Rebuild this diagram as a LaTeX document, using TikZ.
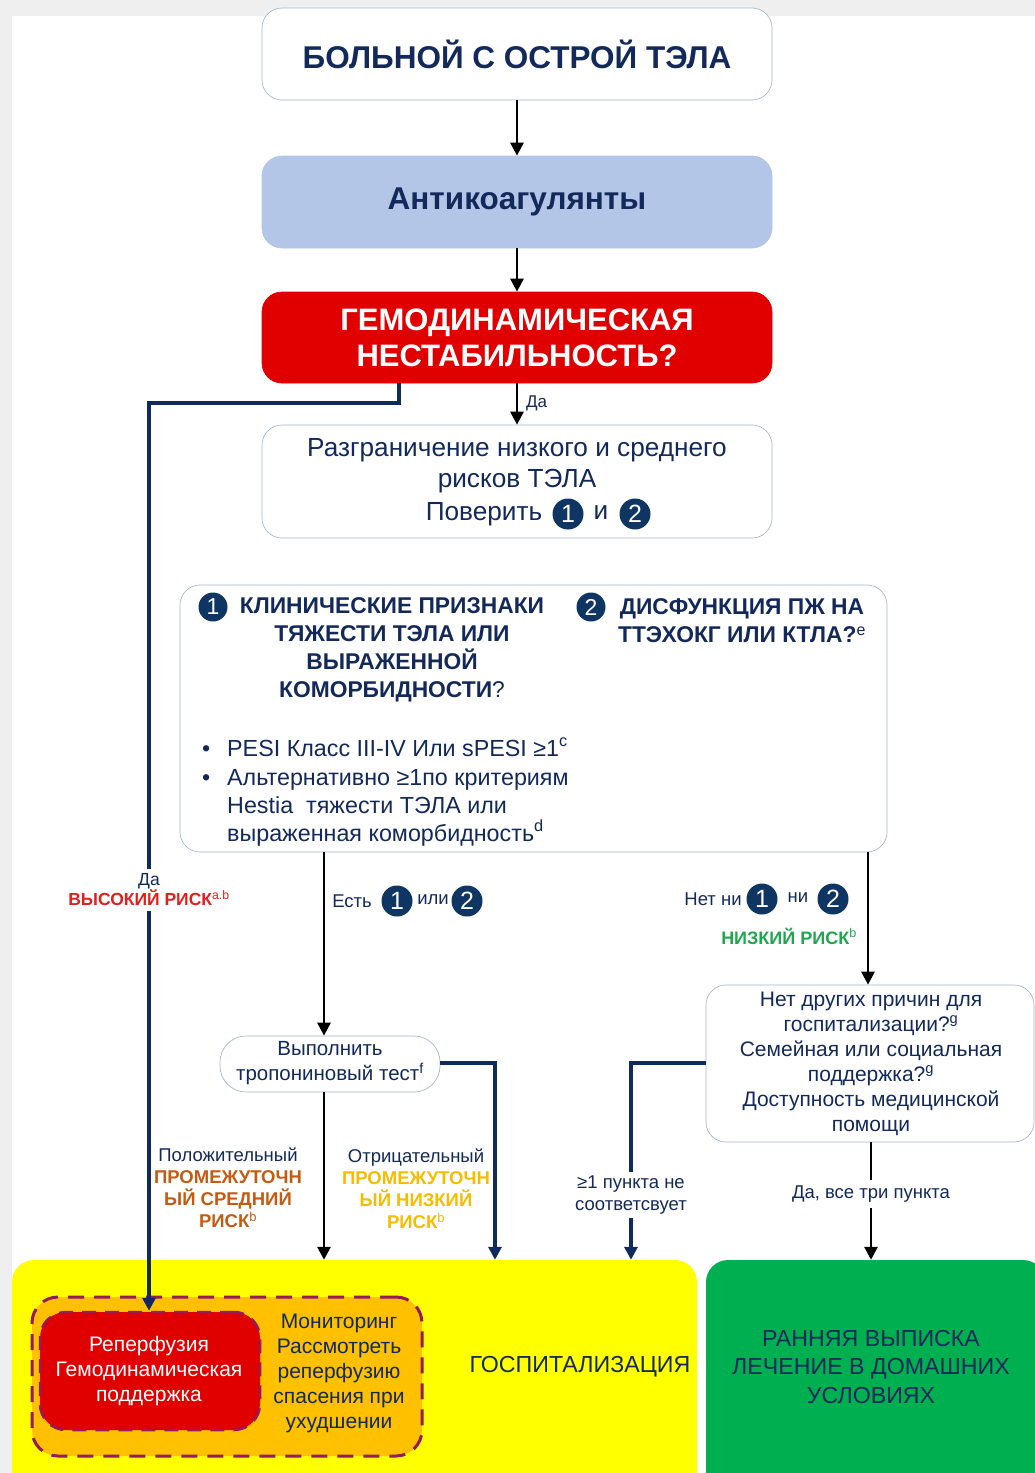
\documentclass[tikz,border=0pt]{standalone}
\usepackage{fontspec}
\setmainfont{Liberation Sans}
\usetikzlibrary{arrows.meta}
\definecolor{navyt}{HTML}{12295A}
\definecolor{navyl}{HTML}{0E2A5E}
\definecolor{circc}{HTML}{0F3563}
\definecolor{redc}{HTML}{E00000}
\definecolor{lblue}{HTML}{B4C6E7}
\definecolor{yellc}{HTML}{FFFF00}
\definecolor{orac}{HTML}{FFC000}
\definecolor{greenc}{HTML}{00B050}
\definecolor{dashc}{HTML}{951B5C}
\definecolor{brownc}{HTML}{C55A11}
\definecolor{goldc}{HTML}{F5BC00}
\definecolor{greent}{HTML}{1FA64F}
\definecolor{redt}{HTML}{E0201C}
\definecolor{bordc}{HTML}{A9B8CC}
\definecolor{bgc}{HTML}{EFEFEF}
\newcommand{\myfs}[2]{\fontsize{#1}{#2}\selectfont}
\tikzset{
  box/.style={draw=bordc, line width=0.7pt, rounded corners=20pt, fill=white, inner sep=0pt},
  arr/.style={line width=2.8pt, draw=black, -{Triangle[length=13pt,width=13pt]}},
  narr/.style={line width=3.5pt, draw=navyl, -{Triangle[length=13pt,width=13pt]}},
  numc/.style={circle, fill=circc, text=white, inner sep=0pt, minimum size=31pt, font=\myfs{25}{25}},
  lbl/.style={text=navyt, inner sep=1pt, align=center},
}
\begin{document}
\begin{tikzpicture}[x=1pt,y=-1pt]
\clip (0,0) rectangle (1035,1473);
\fill[bgc] (0,0) rectangle (1035,1473);
\fill[white] (12,16) rectangle (1035,1473);

% top boxes
\node[box, minimum width=510pt, minimum height=92pt, text=navyt, font=\bfseries\myfs{31.5}{36}] (b1) at (517,54) {БОЛЬНОЙ С ОСТРОЙ ТЭЛА};
\node[box, fill=lblue, draw=lblue, minimum width=510pt, minimum height=92pt, text=navyt, font=\bfseries\myfs{31.5}{36}] (b2) at (517,202) {Антикоагулянты};
\node[box, fill=redc, draw=redc, minimum width=510pt, minimum height=91pt, text=white, align=center, font=\bfseries\myfs{31}{36}] (b3) at (517,337.5) {ГЕМОДИНАМИЧЕСКАЯ\\НЕСТАБИЛЬНОСТЬ?};

% box 4
\node[box, minimum width=510pt, minimum height=113pt] (b4) at (517,481.5) {};
\node[lbl, font=\myfs{26.2}{31}] (t4) at (517,466) {Разграничение низкого и среднего\\рисков ТЭЛА};
\node[lbl, font=\myfs{26.2}{31}] (t4b) at (484,514) {Поверить};
\node[numc] (c41) at (568,514) {1};
\node[lbl, font=\myfs{26.2}{31}] (t4c) at (601,513) {и};
\node[numc] (c42) at (635,514) {2};

% box 5
\node[box, minimum width=707pt, minimum height=267pt] (b5) at (533.5,718.5) {};
\node[numc, minimum size=29pt, font=\myfs{23}{23}] (c51) at (213,607) {1};
\node[lbl, font=\bfseries\myfs{22.8}{28}] (h1) at (392,649.5) {КЛИНИЧЕСКИЕ ПРИЗНАКИ\\ТЯЖЕСТИ ТЭЛА ИЛИ\\ВЫРАЖЕННОЙ\\КОМОРБИДНОСТИ{\mdseries ?}};
\node[numc, minimum size=29pt, font=\myfs{23}{23}] (c52) at (591,607) {2};
\node[lbl, font=\bfseries\myfs{22.8}{28}] (h2) at (742,621) {ДИСФУНКЦИЯ ПЖ НА\\ТТЭХОКГ ИЛИ КТЛА?\textsuperscript{\mdseries e}};
\node[lbl, anchor=base west, inner sep=0pt, font=\myfs{23.3}{28}] (bu1) at (202,756) {•};
\node[lbl, anchor=base west, inner sep=0pt, font=\myfs{23.3}{28}] (l1) at (227,756) {PESI Класс III-IV Или sPESI ≥1\textsuperscript{c}};
\node[lbl, anchor=base west, inner sep=0pt, font=\myfs{23.3}{28}] (bu2) at (202,785) {•};
\node[lbl, anchor=base west, inner sep=0pt, font=\myfs{23.3}{28}] (l2) at (227,785) {Альтернативно ≥1по критериям};
\node[lbl, anchor=base west, inner sep=0pt, font=\myfs{23.3}{28}] (l3) at (227,813) {Hestia\ \ тяжести ТЭЛА или};
\node[lbl, anchor=base west, inner sep=0pt, font=\myfs{23.3}{28}] (l4) at (227,841) {выраженная коморбидность\textsuperscript{d}};

% troponin box
\node[box, rounded corners=26pt, minimum width=220pt, minimum height=56pt] (tr) at (330,1064) {};
\node[lbl, font=\myfs{20.5}{25}] (trt) at (330,1063.5) {Выполнить\\тропониновый тест\textsuperscript{f}};

% right box
\node[box, minimum width=328pt, minimum height=157pt] (rb) at (870,1063.5) {};
\node[lbl, font=\myfs{21}{25}] (rbt) at (871,1063.5) {Нет других причин для\\госпитализации?\textsuperscript{g}\\Семейная или социальная\\поддержка?\textsuperscript{g}\\Доступность медицинской\\помощи};

% bottom boxes
\node[draw=none, fill=yellc, rounded corners=22pt, minimum width=685pt, minimum height=240pt] (yb) at (354.5,1380) {};
\node[draw=none, fill=greenc, rounded corners=22pt, minimum width=339pt, minimum height=240pt] (gb) at (875.5,1380) {};
\node[draw=dashc, fill=orac, line width=3pt, dash pattern=on 16pt off 10pt, rounded corners=26pt, minimum width=390pt, minimum height=159pt] (ob) at (227,1376.5) {};
\node[draw=dashc, fill=redc, line width=2.5pt, dash pattern=on 14pt off 9pt, rounded corners=26pt, minimum width=220pt, minimum height=118pt] (rd) at (150,1371) {};
\node[lbl, text=white, font=\myfs{21}{25}] (rdt) at (149,1371) {Реперфузия\\Гемодинамическая\\поддержка};
\node[lbl, font=\myfs{21}{25.2}] (obt) at (339,1373.5) {Мониторинг\\Рассмотреть\\реперфузию\\спасения при\\ухудшении};
\node[lbl, font=\myfs{23.2}{28}] (ybt) at (580,1367) {ГОСПИТАЛИЗАЦИЯ};
\node[lbl, font=\myfs{23.2}{28.5}] (gbt) at (871,1366.5) {РАННЯЯ ВЫПИСКА\\ЛЕЧЕНИЕ В ДОМАШНИХ\\УСЛОВИЯХ};

% connectors
\draw[arr] (b1.south) -- (b2.north);
\draw[arr] (b2.south) -- (b3.north);
\draw[arr] (b3.south) -- (b4.north);
\node[lbl, anchor=west, font=\myfs{17}{20}] (da1) at (525,403) {Да};

\coordinate (h1c) at (399,403);
\coordinate (h2c) at (149,403);
\draw[narr] (h1c |- b3.south) -- (h1c) -- (h2c) -- (h2c |- rd.north);
\node[lbl, fill=white, font=\myfs{17.5}{20}, inner sep=5pt] (hr) at (149,890) {Да\\{\color{redt}\bfseries ВЫСОКИЙ РИСК\textsuperscript{\mdseries a.b}}};

\coordinate (p1) at (324,852);
\draw[arr] (p1 |- b5.south) -- (p1 |- tr.north);
\node[lbl, font=\myfs{18.5}{22}] (es) at (352,901) {Есть};
\node[numc] (ce1) at (397,901) {1};
\node[lbl, font=\myfs{18.5}{22}] (ili) at (433,900) {или};
\node[numc] (ce2) at (467,901) {2};

\coordinate (p2) at (868,852);
\draw[arr] (p2 |- b5.south) -- (p2 |- rb.north);
\node[lbl, font=\myfs{18.5}{22}] (nn) at (713,899) {Нет ни};
\node[numc] (cn1) at (762,899) {1};
\node[lbl, font=\myfs{18.5}{22}] (ni) at (798,898) {ни};
\node[numc] (cn2) at (833,899) {2};
\node[lbl, text=greent, font=\bfseries\myfs{18}{22}] (lr) at (789,936) {НИЗКИЙ РИСК\textsuperscript{\mdseries b}};

\draw[arr] (p1 |- tr.south) -- (p1 |- yb.north);
\coordinate (p3) at (495,1063);
\draw[narr] (tr.east |- p3) -- (p3) -- (p3 |- yb.north);
\node[lbl, font=\myfs{18.5}{22}] (pos) at (228,1187.5) {Положительный\\{\color{brownc}\bfseries ПРОМЕЖУТОЧН}\\{\color{brownc}\bfseries ЫЙ СРЕДНИЙ}\\{\color{brownc}\bfseries РИСК\textsuperscript{\mdseries b}}};
\node[lbl, font=\myfs{18.5}{22}] (neg) at (416,1188.5) {Отрицательный\\{\color{goldc}\bfseries ПРОМЕЖУТОЧН}\\{\color{goldc}\bfseries ЫЙ НИЗКИЙ}\\{\color{goldc}\bfseries РИСК\textsuperscript{\mdseries b}}};

\coordinate (p4) at (631,1063);
\draw[narr] (rb.west |- p4) -- (p4) -- (p4 |- yb.north);
\node[lbl, fill=white, font=\myfs{18.5}{22}, inner sep=4pt] (ne) at (631,1195) {≥1 пункта не\\соответсвует};

\coordinate (p5) at (871,1142);
\draw[arr] (p5 |- rb.south) -- (p5 |- gb.north);
\node[lbl, fill=white, font=\myfs{18.5}{22}, inner sep=6pt] (da3) at (871,1194) {Да, все три пункта};
\end{tikzpicture}
\end{document}
